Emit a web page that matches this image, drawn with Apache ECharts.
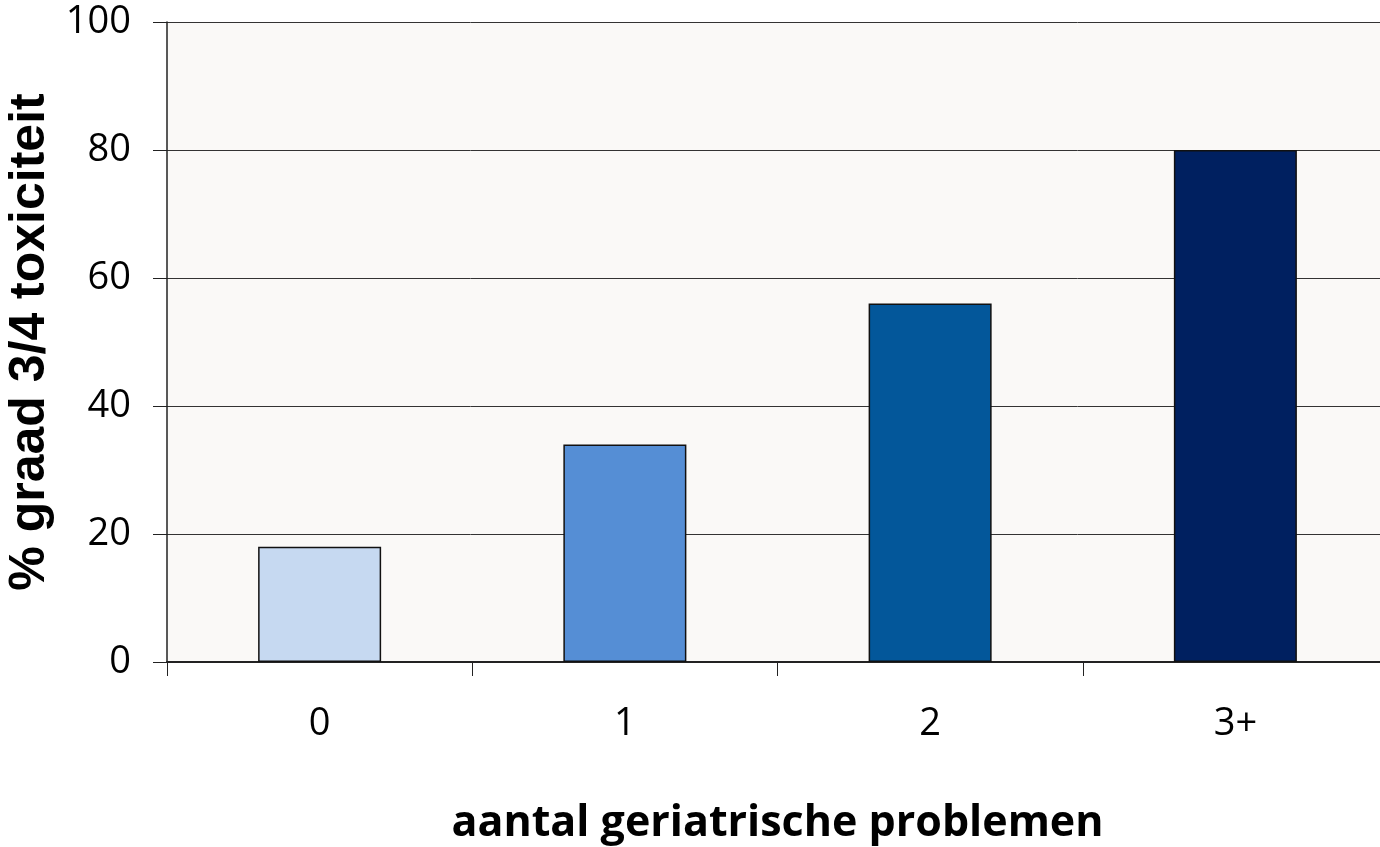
<!DOCTYPE html>
<html>
<head>
<meta charset="utf-8">
<script src="https://cdn.jsdelivr.net/npm/echarts@6/dist/echarts.min.js"></script>
<style>
  html, body { margin: 0; padding: 0; background: #fff; }
  #chart { width: 1380px; height: 847px; }
</style>
</head>
<body>
<div id="chart"></div>
<script>
const categories = ['0', '1', '2', '3+']
const values = [18, 34, 56, 80]
const barColors = ['#C6D9F1', '#558ED5', '#03579A', '#002060']

const chart = echarts.init(document.getElementById('chart'))

const option = {
  animation: false,
  grid: {
    left: 167,
    right: -8,
    top: 22,
    bottom: 185,
    outerBoundsMode: 'none',
    containLabel: false,
    show: true,
    backgroundColor: '#FAF9F7',
    borderWidth: 0
  },
  xAxis: {
    type: 'category',
    data: categories,
    name: 'aantal geriatrische problemen',
    nameLocation: 'middle',
    nameGap: 140,
    nameTextStyle: {
      fontFamily: 'Open Sans',
      fontWeight: 'bold',
      fontSize: 43,
      color: '#000'
    },
    axisLine: { lineStyle: { color: '#222', width: 2 } },
    axisTick: { show: true, length: 14, lineStyle: { color: '#222', width: 1 } },
    axisLabel: {
      fontFamily: 'Open Sans',
      fontSize: 38,
      color: '#000',
      margin: 43
    }
  },
  yAxis: {
    type: 'value',
    min: 0,
    max: 100,
    interval: 20,
    name: '% graad 3/4 toxiciteit',
    nameLocation: 'middle',
    nameGap: 100,
    nameTextStyle: {
      fontFamily: 'Liberation Sans',
      fontWeight: 'bold',
      fontSize: 50,
      color: '#000'
    },
    axisLine: { show: true, lineStyle: { color: '#222', width: 1.5 } },
    axisTick: { show: true, length: 14, lineStyle: { color: '#222' } },
    axisLabel: {
      fontFamily: 'Open Sans',
      fontSize: 38,
      color: '#000',
      margin: 36
    },
    splitLine: { show: true, lineStyle: { color: '#333', width: 1 } }
  },
  series: [
    {
      type: 'bar',
      barWidth: '40.3%',
      data: values.map((v, i) => ({
        value: v,
        itemStyle: { color: barColors[i] }
      })),
      itemStyle: {
        borderColor: '#111',
        borderWidth: 1.5
      }
    }
  ]
}

chart.setOption(option)
</script>
</body>
</html>
